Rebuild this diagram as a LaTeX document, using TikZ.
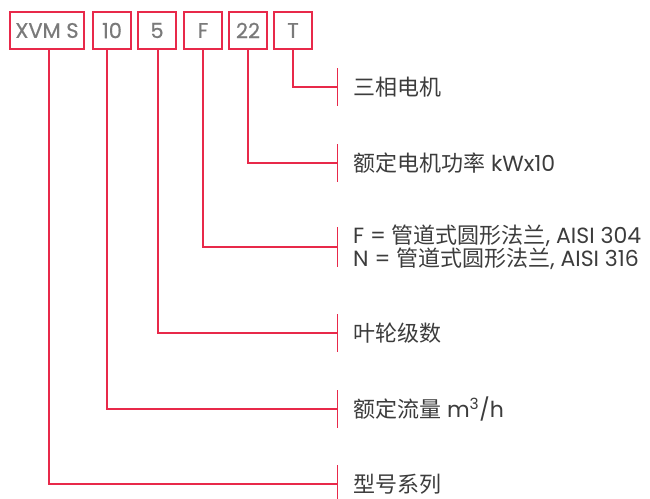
\documentclass[tikz,border=0pt]{standalone}
\usepackage{fontspec}
\setmainfont{Poppins}
\newfontfamily\cjk{Noto Sans CJK SC}
\definecolor{codered}{HTML}{E8294A}
\definecolor{codegray}{HTML}{7A7A7A}
\definecolor{textgray}{HTML}{3C3C3C}

\begin{document}
\begin{tikzpicture}[x=1pt,y=-1pt,
    codebox/.style={draw=codered, line width=1.3pt, minimum height=37pt, minimum width=38pt,
        inner sep=0pt, text=codegray, font=\fontsize{21}{21}\selectfont\addfontfeature{FakeBold=0.6}},
    link/.style={draw=codered, line width=1.3pt},
    desc/.style={anchor=west, inner sep=0pt, text=textgray, align=left,
        font=\fontsize{22}{21}\selectfont}]
        \useasboundingbox (0,0) rectangle (650,498);

        % code boxes
        \node[codebox, minimum width=74pt] (xvms) at (47,30.5) {XVM S};
        \node[codebox] (flow) at (112,30.5) {10};
        \node[codebox] (stage) at (157,30.5) {5};
        \node[codebox] (flange) at (203,30.5) {F};
        \node[codebox] (power) at (248,30.5) {22};
        \node[codebox] (motor) at (293,30.5) {T};

        % tick points
        \coordinate (tmotor) at (337.5,87);
        \coordinate (tpower) at (337.5,163);
        \coordinate (tflange) at (337.5,247);
        \coordinate (tstage) at (337.5,333);
        \coordinate (tflow) at (337.5,409);
        \coordinate (txvms) at (337.5,484);

        % descriptions
        \node[desc] (dmotor) at (353,87) {{\cjk 三相电机}};
        \node[desc] (dpower) at (353,163) {{\cjk 额定电机功率} kWx10};
        \node[desc] (dflange) at (353,247) {F = {\cjk 管道式圆形法兰}, AISI 304\\N = {\cjk 管道式圆形法兰}, AISI 316};
        \node[desc] (dstage) at (353,333) {{\cjk 叶轮级数}};
        \node[desc] (dflow) at (353,409) {{\cjk 额定流量} m\textsuperscript{3}/h};
        \node[desc] (dxvms) at (353,484) {{\cjk 型号系列}};

        % connectors
        \draw[link] (motor.south) |- (tmotor);
        \draw[link] (power.south) |- (tpower);
        \draw[link] (flange.south) |- (tflange);
        \draw[link] ([xshift=1pt]stage.south) |- (tstage);
        \draw[link] ([xshift=-5pt]flow.south) |- (tflow);
        \draw[link] ([xshift=2pt]xvms.south) |- (txvms);

        % ticks
        \draw[link] ([yshift=19pt]tmotor) -- ([yshift=-19pt]tmotor);
        \draw[link] ([yshift=19pt]tpower) -- ([yshift=-19pt]tpower);
        \draw[link] ([yshift=20pt]tflange) -- ([yshift=-20pt]tflange);
        \draw[link] ([yshift=19pt]tstage) -- ([yshift=-19pt]tstage);
        \draw[link] ([yshift=19pt]tflow) -- ([yshift=-19pt]tflow);
        \draw[link] ([yshift=19pt]txvms) -- ([yshift=-19pt]txvms);
\end{tikzpicture}
\end{document}
